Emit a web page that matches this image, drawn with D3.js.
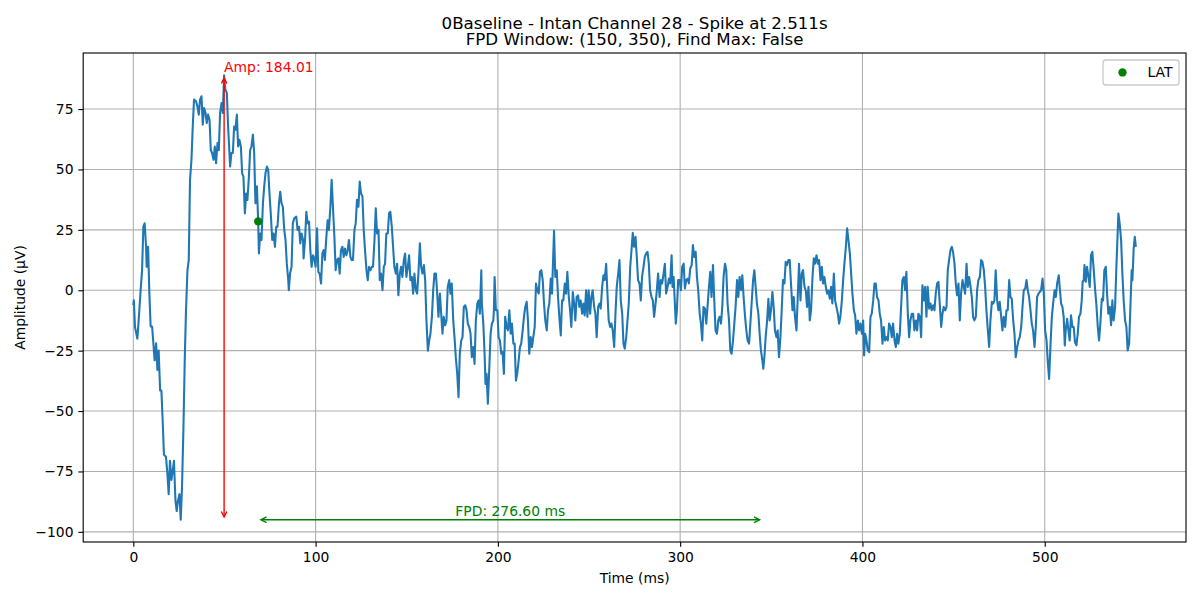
<!DOCTYPE html>
<html>
<head>
<meta charset="utf-8">
<script src="https://cdn.jsdelivr.net/npm/d3@7"></script>
<style>
body { margin: 0; background: #fff; }
svg text { font-family: "DejaVu Sans", sans-serif; fill: #000; }
</style>
</head>
<body>
<svg id="chart" width="1200" height="600"></svg>
<script>
var titleLines = ["0Baseline - Intan Channel 28 - Spike at 2.511s", "FPD Window: (150, 350), Find Max: False"];
var xLabel = "Time (ms)";
var yLabel = "Amplitude (μV)";
var xTicks = [0, 100, 200, 300, 400, 500];
var yTicks = [-100, -75, -50, -25, 0, 25, 50, 75];

// trace, time (ms) / amplitude (uV)
var timeMs = [
 0, 0.3, 0.9, 2.2, 2.7, 4.0, 4.8, 5.5, 6.2, 7.0,
 7.3, 8.1, 8.8, 9.5, 10.3, 11.0, 11.7, 12.5, 13.2, 13.9,
 14.7, 15.4, 16.1, 16.8, 17.9, 18.7, 19.4, 20.1, 20.9, 21.6,
 22.3, 23.1, 23.8, 24.5, 25.3, 26.0, 26.7, 27.5, 28.2, 28.9,
 29.7, 30.4, 31.1, 31.9, 32.6, 33.3, 34.4, 35.2, 35.9, 36.6,
 37.4, 38.1, 38.8, 39.6, 40.3, 41.0, 41.8, 42.5, 43.2, 44.0,
 44.7, 45.4, 46.2, 46.9, 47.6, 48.4, 49.1, 49.8, 50.5, 51.3,
 52.0, 53.1, 53.8, 54.6, 55.3, 56.0, 56.8, 57.5, 58.2, 59.0,
 59.7, 60.4, 61.2, 61.9, 62.6, 63.4, 64.1, 64.8, 65.6, 66.3,
 67.0, 67.8, 68.5, 68.9, 69.6, 70.3, 71.1, 71.8, 72.5, 73.3,
 74.0, 74.7, 75.5, 76.2, 76.9, 77.7, 78.4, 79.1, 79.9, 80.6,
 81.3, 82.0, 82.8, 83.5, 84.2, 85.0, 85.3, 86.0, 86.8, 87.5,
 88.3, 89.4, 90.1, 90.9, 91.6, 92.3, 93.1, 93.4, 94.2, 94.9,
 95.6, 96.4, 97.1, 97.8, 98.6, 99.3, 100.0, 100.8, 101.5, 102.2,
 103.0, 103.7, 104.4, 105.1, 105.9, 106.6, 107.3, 108.1, 108.8, 109.5,
 110.3, 111.0, 111.7, 112.5, 113.2, 113.9, 114.7, 115.4, 116.1, 116.9,
 117.6, 118.3, 119.1, 119.8, 120.5, 121.3, 122.0, 122.7, 123.5, 124.2,
 124.9, 125.7, 126.4, 127.1, 127.9, 128.6, 129.3, 130.1, 130.8, 131.5,
 132.3, 133.0, 133.7, 134.5, 135.2, 135.9, 136.7, 137.4, 138.1, 138.8,
 139.6, 140.3, 141.0, 141.8, 142.5, 143.2, 144.0, 144.7, 145.4, 146.2,
 146.9, 147.6, 148.4, 149.1, 149.8, 150.6, 151.3, 152.0, 152.8, 153.5,
 154.2, 155.0, 155.7, 156.4, 157.2, 157.9, 158.6, 159.4, 160.1, 160.8,
 161.6, 162.3, 163.0, 163.8, 164.5, 165.2, 166.0, 166.7, 167.4, 168.2,
 168.9, 169.6, 170.3, 171.1, 171.8, 172.5, 173.3, 174.0, 174.7, 175.5,
 176.2, 176.9, 177.7, 178.4, 179.1, 179.9, 180.6, 181.3, 182.1, 182.8,
 183.5, 184.3, 185.0, 185.7, 186.5, 187.2, 187.9, 188.7, 189.4, 190.1,
 190.9, 191.2, 192.0, 192.7, 193.2, 193.8, 194.5, 195.3, 196.0, 196.7,
 197.5, 197.8, 198.2, 198.9, 199.7, 200.4, 201.1, 201.9, 202.6, 203.3,
 204.0, 204.8, 205.5, 206.3, 207.0, 207.7, 208.5, 209.2, 209.9, 210.6,
 211.4, 212.1, 212.8, 213.6, 214.3, 215.0, 215.8, 216.5, 217.2, 218.0,
 218.7, 219.4, 220.2, 220.9, 221.6, 222.4, 223.1, 223.8, 224.6, 225.3,
 226.0, 226.8, 227.5, 228.2, 229.0, 229.7, 230.4, 230.8, 231.5, 232.3,
 233.0, 233.7, 234.5, 235.2, 235.9, 236.7, 237.4, 238.1, 238.9, 239.6,
 240.3, 241.1, 241.8, 242.5, 243.2, 244.0, 244.7, 245.4, 246.2, 246.9,
 247.6, 248.4, 249.1, 249.8, 250.6, 251.3, 252.0, 252.8, 253.5, 254.2,
 255.0, 255.7, 256.4, 257.2, 257.9, 258.6, 259.4, 260.1, 260.8, 261.6,
 262.3, 263.0, 263.8, 264.5, 265.2, 266.0, 266.7, 267.4, 268.2, 268.9,
 269.6, 270.4, 271.1, 271.8, 272.6, 273.3, 274.0, 274.7, 275.5, 276.2,
 276.9, 277.7, 278.4, 279.1, 279.9, 280.6, 281.3, 282.1, 282.8, 283.5,
 284.3, 285.0, 285.7, 286.5, 287.2, 287.9, 288.7, 289.4, 290.1, 290.9,
 291.6, 292.3, 293.1, 293.8, 294.5, 295.3, 295.8, 296.4, 297.1, 297.6,
 298.2, 298.9, 299.7, 300.4, 301.1, 301.9, 302.6, 303.3, 304.1, 304.8,
 305.5, 306.3, 307.0, 307.7, 308.5, 309.2, 309.9, 310.7, 311.4, 312.1,
 312.8, 313.6, 314.3, 315.0, 315.8, 316.5, 317.2, 318.0, 318.7, 319.4,
 320.2, 320.9, 321.6, 322.4, 323.1, 323.8, 324.6, 325.3, 326.0, 326.8,
 327.5, 328.2, 329.0, 329.7, 330.4, 331.2, 331.9, 332.6, 333.4, 334.1,
 334.8, 335.6, 336.3, 337.0, 337.8, 338.5, 339.2, 340.0, 340.7, 341.4,
 342.1, 342.9, 343.6, 344.3, 345.1, 345.6, 346.2, 346.9, 347.7, 348.4,
 349.1, 349.8, 350.6, 351.3, 352.0, 352.8, 353.5, 354.2, 355.0, 355.7,
 356.4, 357.2, 357.9, 358.6, 359.4, 360.1, 360.8, 361.6, 362.3, 363.0,
 363.8, 364.5, 365.2, 366.0, 366.7, 367.4, 368.2, 368.9, 369.6, 370.4,
 371.1, 371.8, 372.6, 373.3, 374.0, 374.8, 375.5, 376.2, 377.0, 377.7,
 378.4, 379.1, 379.9, 380.6, 381.3, 382.1, 382.8, 383.5, 384.3, 385.0,
 385.7, 386.5, 387.2, 387.9, 388.7, 389.4, 390.1, 390.9, 391.6, 392.3,
 393.1, 393.8, 394.5, 395.3, 396.0, 396.7, 397.5, 398.2, 398.9, 399.7,
 400.4, 400.9, 401.5, 402.2, 402.9, 403.7, 404.4, 405.1, 405.9, 406.6,
 407.3, 408.0, 408.8, 409.5, 410.2, 411.0, 411.7, 412.4, 413.2, 413.9,
 414.6, 415.4, 416.1, 416.8, 417.6, 418.3, 419.0, 419.7, 420.5, 421.2,
 421.9, 422.7, 423.4, 424.1, 424.9, 425.6, 426.3, 427.1, 427.8, 428.5,
 429.3, 430.0, 430.7, 431.5, 432.2, 432.9, 433.7, 434.4, 435.1, 435.8,
 436.6, 437.3, 438.0, 438.8, 439.5, 440.2, 441.0, 441.7, 442.4, 443.2,
 443.9, 444.6, 445.4, 446.1, 446.8, 447.5, 448.3, 449.0, 449.7, 450.5,
 451.2, 451.9, 452.7, 453.4, 454.1, 454.9, 455.6, 456.3, 457.1, 457.8,
 458.5, 459.2, 460.0, 460.7, 461.4, 462.2, 462.9, 463.6, 464.4, 465.1,
 465.8, 466.6, 467.3, 468.0, 468.8, 469.5, 470.2, 471.0, 471.7, 472.4,
 473.1, 473.9, 474.6, 475.3, 476.1, 476.8, 477.5, 478.3, 479.0, 479.7,
 480.5, 481.2, 481.9, 482.7, 483.4, 484.1, 484.9, 485.6, 486.3, 487.1,
 487.8, 488.5, 489.3, 490.0, 490.7, 491.4, 492.2, 492.9, 493.6, 494.4,
 495.1, 495.8, 496.6, 497.3, 498.0, 498.8, 499.5, 500.2, 501.0, 501.7,
 502.4, 503.2, 503.9, 504.6, 505.4, 506.1, 506.8, 507.7, 508.2, 509.0,
 509.7, 510.4, 511.0, 511.5, 512.3, 513.0, 513.7, 514.4, 515.2, 515.9,
 516.6, 517.4, 518.1, 518.8, 519.6, 520.3, 520.8, 521.4, 521.8, 522.5,
 523.2, 524.0, 524.7, 525.4, 526.1, 526.9, 527.6, 528.3, 529.1, 529.8,
 530.5, 531.3, 532.0, 532.7, 533.5, 534.2, 534.9, 535.7, 536.4, 537.1,
 537.8, 538.6, 539.3, 540.0, 540.4, 541.1, 541.9, 542.6, 543.3, 544.1,
 544.8, 545.5, 546.3, 547.0, 547.7, 548.1, 548.8, 549.4, 550.0
];
var ampUv = [
 -6.2, -4.2, -15.2, -20, -15, 0, 8.3, 26.3, 27.7, 18,
 9.7, 18, -1.4, -15, -15, -22, -29, -22, -33, -25,
 -41.5, -41.5, -54, -68, -69, -76, -84.4, -70.6, -78.5, -74.8,
 -70.6, -87, -91.4, -87, -84.4, -95.0, -81.7, -56.8, -29, -8.3,
 8.3, 12.5, 45.7, 54, 67.8, 78.9, 78.2, 76, 72.7, 78.9,
 80.3, 68.5, 75.4, 73.4, 69.2, 72.7, 70.6, 58, 56.8, 54,
 59.5, 52.6, 61, 58, 73.4, 77.5, 73.4, 89.0, 83, 81.7,
 67.8, 51.2, 56.8, 56.8, 67.8, 66.4, 72.7, 59.5, 62.3, 59.5,
 48.4, 47, 31.8, 40, 37.4, 47, 58, 59.5, 64.4, 56.8,
 36, 43, 28.5, 15.2, 23.5, 20.8, 36, 43, 48.4, 51.2,
 49.8, 40, 30.5, 20.8, 23.5, 18, 26.3, 26.3, 36, 40.8,
 36, 34.6, 25, 20.8, 11, 4.2, 0, 7, 9.7, 27.7,
 29.8, 30.5, 25, 26.3, 19.4, 23.5, 20.8, 13.2, 20.8, 32.5,
 27.7, 28.4, 16.6, 9.7, 14.5, 13.2, 9.7, 25.6, 7.6, 6.9,
 2.8, 15.2, 16.6, 12.5, 22.1, 29, 25, 34.6, 45.7, 34.6,
 22.1, 8.3, 12.5, 13.2, 6.9, 16.6, 18, 13.8, 17.3, 14.5,
 16.6, 20.8, 13.8, 12.5, 12.5, 25, 27.7, 37.4, 34.6, 45,
 40.1, 38.8, 25, 16.6, 8.3, 4.2, 9.7, 8.3, 9.7, 9.7,
 20.8, 33.9, 23.5, 25, 4.2, 6.9, 0, 9.7, 11, 23.5,
 23.5, 31.8, 32.5, 26.3, 18, 9.7, 6.9, 11, -2.1, 6.9,
 9.7, 5.5, 12.5, 15.2, 5.5, 9.7, 14.5, 4.2, 5.5, -1.4,
 6.9, 0, -1.4, 6.9, 19.4, 9.7, 6.9, 10.4, 4.2, -12.5,
 -25, -20.8, -18, -11, 0, 6.9, 6.9, -1.4, -11, -1.4,
 -9.7, -18, -11, -14.5, -12.5, 1.4, 4.2, -1.4, 2.8, -12.5,
 -19.4, -27.7, -34.6, -44.3, -26.3, -20.8, -19.4, -6.9, -6.2, -8.3,
 -13.8, -15.2, -18, -27.7, -23.5, -30.5, -12.5, -5.5, -4.2, -9.7,
 8.3, -5.5, -13.8, -26.3, -38.8, -34.6, -47, -31.8, -18, -13.8,
 -12.5, -8.3, 5.5, -8.3, -8.3, -19.4, -20.8, -26.3, -25.6, -34.6,
 -11, -15.2, -16.6, -8.3, -18, -13.8, -22.1, -22.1, -37.4, -34.6,
 -29, -23.5, -22.1, -16.6, -11, -6.9, -4.8, -12.5, -26.3, -19.4,
 -23.5, -19.4, -15.2, 2.8, 0, -1.4, 7.6, 8.3, 4.2, -5.5,
 -12.5, -16.6, -8.3, -5.5, 4.8, -1.4, 15.2, 24.6, 5.5, 8.3,
 -2.8, -11, -18.7, -4.2, -4.2, 2.8, -1.4, 7.6, -2.8, -8.3,
 -15.2, -0.7, -5.5, -12.5, -2.8, -2.1, -6.9, -4.2, -9.7, -5.5,
 -10.4, 0, -11, 0, -9.7, -2.8, 0, -6.9, -9.7, -19.4,
 -6.9, -5.5, -7.6, 1.4, 6.2, 4.2, 11, -1.4, -12.5, -15.2,
 -13.8, -16.6, -23.5, -9.7, 1.4, 6.9, 12.5, -4.2, -9.7, -22.1,
 -24.2, -19.4, -12.5, -5.5, 9.7, 16.6, 23.8, 18, 22.1, 13.8,
 4.2, 2.8, -4.2, 5.5, 9.7, 13.8, 15.2, 15.9, 11, 0,
 -2.8, -4.2, -11, -5.5, 0, 6.9, -2.8, 4.2, 2.8, 6.9,
 11, -1.4, 1.4, 4.8, 2.8, 14.5, 1.4, 5.5, -5.5, -13.8,
 -8.3, 4.2, 4.2, 0, 9.7, 11, 0.7, 4.2, 4.8, 2.8,
 9, 10.4, 18.7, 13.8, 15.9, 5.5, 0, -9.7, -13.8, -20.8,
 -6.9, -7.6, -13.8, -6.9, 1.4, 7.6, -2.8, 10.4, -4.2, -16.6,
 -18, -12.5, -11, -13.8, -6.9, 5.5, 11, 8.3, -5.5, -12.5,
 -24.9, -26.3, -20.8, -13.8, -6.9, 4.2, -2.8, 5.5, 0, 6.2,
 -2.8, -11, -16.6, -20.8, -22.1, -13.8, -5.5, 4.2, 8.3, 1.4,
 -5.5, -9.7, -18, -24.9, -29, -32.5, -27.7, -19.4, -12.5, -3.5,
 -12.5, -8.3, -0.7, -6.9, -16.6, -19.4, -16.6, -27.7, -19.4, -8.3,
 4.2, 2.8, 11.8, 10.4, 12.5, 12.5, 2.8, -8.3, -2.8, -11,
 -16.6, -2.8, 11, -4.2, 6.9, 8.3, 1.4, 0, -6.9, 1.4,
 -12.5, -8.3, 5.5, 13.2, 11, 14.5, 11, 12.5, 4.2, 9.7,
 2.8, 5.5, 1.4, -1.4, 0, -3.5, 1.4, -5.5, 6.9, -4.2,
 -6.9, -9.7, -13.8, -11, -4.2, 4.2, 11, 18, 25.6, 20.8,
 15.2, 6.9, -1.4, -8.3, -10.4, -18, -12.5, -16.6, -13.8, -18,
 -12.5, -27, -18, -20.8, -24.9, -25.6, -11, -9.7, -4.2, 2.8,
 2.8, -2.8, -4.2, -9.7, -12.5, -22.1, -15.2, -20.8, -19.4, -20.8,
 -13.8, -15.2, -19.4, -13.8, -20.8, -23.5, -18, -22.1, -18, -6.9,
 4.2, 5.5, 0, 7.6, -9.7, -19.4, -12.5, -9.7, -9.7, -16.6,
 -12.5, -16.6, -9.7, -11, -19.4, 2.1, -4.2, 1.4, -11, 1.4,
 -7.6, -5.5, -8.3, -6.2, -8.3, -1.4, 2.8, 3.5, -5.5, -15.2,
 -9.7, -6.9, -8.3, -6.9, 8.3, 12.5, 16.6, 18, 15.9, 11,
 2.8, -2.1, 2.8, -12.5, -1.4, 4.2, 1.4, -1.4, 11, 1.4,
 5.5, 2.1, -2.8, -11, -12.5, -11, 0, 4.2, 5.5, 12.5,
 11.8, 8.3, 1.4, -8.3, -16.6, -23.5, -12.5, -4.8, -5.5, -4.2,
 8.3, -4.2, -8.3, -4.8, -11, -16.6, -11, -15.2, -8.3, -8.3,
 4.2, -2.8, -3.5, -12.5, -18, -27.7, -23.5, -20.8, -19.4, -15.2,
 -6.9, 0, 0.7, 4.2, 0, -2.8, -8.3, -13.8, -16.6, -23.5,
 -15.2, -2.8, -1.4, -0.7, 0, 4.8, -1.4, -16.6, -20.8, -29.8,
 -36.7, -22.1, -11, -5.5, 0, -2.8, 2.8, 6.2, 1.4, -5.5,
 -6.9, -11, -22.8, -16.6, -11.8, -16.6, -20.8, -10.4, -15.2, -15.2,
 -21.5, -22.8, -18, -11, -9.7, -4.2, 3.5, 4.2, 10.4, 3.5,
 9.7, 5.5, 1.4, 14.5, 15.9, 8.3, 0.7, -5.5, -15.2, -20.8,
 -13.8, -3.5, -4.2, 8.3, 9.7, -1.4, -9.7, -6.9, -14.5, -4.2,
 -12.5, -6.9, 9.7, 23.5, 31.8, 27.7, 20.8, 6.9, -4.2, -12.5,
 -15.2, -24.9, -22.1, -6.9, 8.3, 4.2, 17.3, 22.1, 18
];

var latMs = 68.5, latUv = 28.5;
var peakMs = 49.8;
var fpdMs = 276.60;
var ampValue = 184.01;
var legendLabels = ["LAT"];

var W = 1200, H = 600;
var plot = { left: 83.2, right: 1186, top: 53, bottom: 542 };
var px = 1.389; // one point in pixels

var svg = d3.select('#chart');

var n = Math.min(timeMs.length, ampUv.length);
var trace = [];
for (var i = 0; i < n; i++) {
    trace.push({ t: timeMs[i], v: ampUv[i] });
}

var tExt = d3.extent(trace, function (d) { return d.t; });
var vExt = d3.extent(trace, function (d) { return d.v; });
var tPad = (tExt[1] - tExt[0]) * 0.05;
var vPad = (vExt[1] - vExt[0]) * 0.05;

var x = d3.scaleLinear()
    .domain([tExt[0] - tPad, tExt[1] + tPad])
    .range([plot.left, plot.right]);
var y = d3.scaleLinear()
    .domain([vExt[0] - vPad, vExt[1] + vPad])
    .range([plot.bottom, plot.top]);

var fmt = function (d) { return d < 0 ? '\u2212' + Math.abs(d) : '' + d; };

// grid
var grid = svg.append('g');
grid.selectAll('line.gx').data(xTicks).enter().append('line')
    .attr('x1', function (d) { return x(d); }).attr('x2', function (d) { return x(d); })
    .attr('y1', plot.top).attr('y2', plot.bottom)
    .attr('stroke', '#b0b0b0').attr('stroke-width', 0.8 * px);
grid.selectAll('line.gy').data(yTicks).enter().append('line')
    .attr('y1', function (d) { return y(d); }).attr('y2', function (d) { return y(d); })
    .attr('x1', plot.left).attr('x2', plot.right)
    .attr('stroke', '#b0b0b0').attr('stroke-width', 0.8 * px);

// signal
var line = d3.line()
    .x(function (d) { return x(d.t); })
    .y(function (d) { return y(d.v); });

svg.append('path')
    .datum(trace)
    .attr('d', line)
    .attr('fill', 'none')
    .attr('stroke', '#1f77b4')
    .attr('stroke-width', 1.5 * px)
    .attr('stroke-linejoin', 'round');

svg.append('circle')
    .attr('cx', x(latMs)).attr('cy', y(latUv))
    .attr('r', 3 * px)
    .attr('fill', 'green');

// double headed arrow like matplotlib '<->'
var drawArrow = function (x1, y1, x2, y2, color) {
    var dx = x2 - x1, dy = y2 - y1;
    var len = Math.sqrt(dx * dx + dy * dy);
    var ux = dx / len, uy = dy / len;
    var shrink = 2 * px;
    var ax = x1 + ux * shrink, ay = y1 + uy * shrink;
    var bx = x2 - ux * shrink, by = y2 - uy * shrink;
    var hl = 0.4 * 10 * px, hw = 0.2 * 10 * px;
    var g = svg.append('g')
        .attr('fill', 'none')
        .attr('stroke', color)
        .attr('stroke-width', 1 * px);
    g.append('line').attr('x1', ax).attr('y1', ay).attr('x2', bx).attr('y2', by);
    g.append('polyline').attr('points', [
        [ax + ux * hl - uy * hw, ay + uy * hl + ux * hw],
        [ax, ay],
        [ax + ux * hl + uy * hw, ay + uy * hl - ux * hw]
    ].join(' '));
    g.append('polyline').attr('points', [
        [bx - ux * hl - uy * hw, by - uy * hl + ux * hw],
        [bx, by],
        [bx - ux * hl + uy * hw, by - uy * hl - ux * hw]
    ].join(' '));
};

drawArrow(x(peakMs), y(vExt[0]), x(peakMs), y(vExt[1]), 'red');
svg.append('text')
    .attr('x', x(peakMs)).attr('y', y(vExt[1]) - 3.3)
    .style('font-size', 10 * px + 'px')
    .style('fill', 'red')
    .text('Amp: ' + ampValue.toFixed(2));

drawArrow(x(latMs), y(vExt[0]), x(latMs + fpdMs), y(vExt[0]), 'green');
svg.append('text')
    .attr('x', x(latMs + fpdMs / 2)).attr('y', y(vExt[0]) - 3.3)
    .attr('text-anchor', 'middle')
    .style('font-size', 10 * px + 'px')
    .style('fill', 'green')
    .text('FPD: ' + fpdMs.toFixed(2) + ' ms');

// axes
var xAxis = d3.axisBottom(x).tickValues(xTicks).tickFormat(fmt)
    .tickSize(3.5 * px).tickPadding(3.5 * px);
var yAxis = d3.axisLeft(y).tickValues(yTicks).tickFormat(fmt)
    .tickSize(3.5 * px).tickPadding(3.5 * px);

var gx = svg.append('g').attr('transform', 'translate(0,' + plot.bottom + ')').call(xAxis);
var gy = svg.append('g').attr('transform', 'translate(' + plot.left + ',0)').call(yAxis);
[gx, gy].forEach(function (g) {
    g.select('.domain').remove();
    g.selectAll('.tick line').attr('stroke', '#000').attr('stroke-width', 0.8 * px);
    g.selectAll('.tick text')
        .style('font-family', '"DejaVu Sans", sans-serif')
        .style('font-size', 10 * px + 'px')
        .attr('fill', '#000');
});

svg.append('rect')
    .attr('x', plot.left).attr('y', plot.top)
    .attr('width', plot.right - plot.left).attr('height', plot.bottom - plot.top)
    .attr('fill', 'none').attr('stroke', '#000').attr('stroke-width', 0.8 * px);

svg.append('text')
    .attr('x', (plot.left + plot.right) / 2).attr('y', 583)
    .attr('text-anchor', 'middle')
    .style('font-size', 10 * px + 'px')
    .text(xLabel);

svg.append('text')
    .attr('transform', 'translate(25,' + (plot.top + plot.bottom) / 2 + ') rotate(-90)')
    .attr('text-anchor', 'middle')
    .style('font-size', 10 * px + 'px')
    .text(yLabel);

svg.selectAll('text.title').data(titleLines).enter().append('text')
    .attr('class', 'title')
    .attr('x', (plot.left + plot.right) / 2)
    .attr('y', function (d, i) { return 28.7 + i * 16.7; })
    .attr('text-anchor', 'middle')
    .style('font-size', 12 * px + 'px')
    .text(function (d) { return d; });

// legend, upper right
var fs = 10 * px;
var lg = svg.append('g');
var boxW = 76, boxH = 25;
var bx0 = plot.right - 0.5 * fs - boxW, by0 = plot.top + 0.5 * fs;
lg.append('rect')
    .attr('x', bx0).attr('y', by0).attr('width', boxW).attr('height', boxH)
    .attr('rx', 0.2 * fs).attr('ry', 0.2 * fs)
    .attr('fill', '#fff').attr('fill-opacity', 0.8)
    .attr('stroke', '#cccccc').attr('stroke-width', 1 * px);
lg.selectAll('circle').data(legendLabels).enter().append('circle')
    .attr('cx', bx0 + 0.4 * fs + fs)
    .attr('cy', by0 + boxH / 2)
    .attr('r', 3 * px)
    .attr('fill', 'green');
lg.selectAll('text').data(legendLabels).enter().append('text')
    .attr('x', bx0 + 0.4 * fs + 2 * fs + 0.8 * fs)
    .attr('y', by0 + boxH / 2 + 5)
    .style('font-size', fs + 'px')
    .text(function (d) { return d; });
</script>
</body>
</html>
